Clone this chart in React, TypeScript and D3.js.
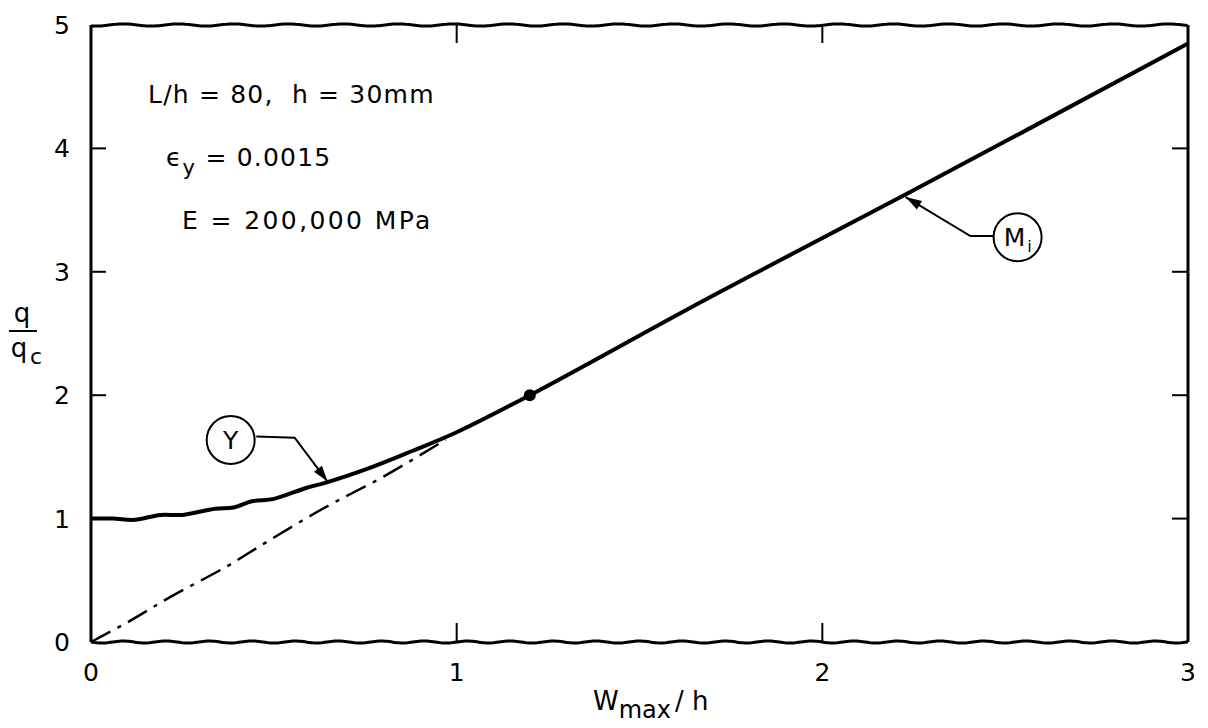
import React from "react";
import * as d3 from "d3";

// ---- data ----
const miX = [0, 0.06, 0.12, 0.19, 0.25, 0.34, 0.39, 0.44, 0.5, 0.59, 0.64, 0.77, 0.88, 1.0, 1.2, 1.69, 2.23, 3.0];
const miY = [1.0, 1.0, 0.99, 1.03, 1.03, 1.08, 1.09, 1.14, 1.16, 1.25, 1.29, 1.42, 1.55, 1.7, 2.0, 2.79, 3.63, 4.85];
const linX = [0, 0.1, 0.22, 0.37, 0.48, 0.64, 0.8, 0.97];
const linY = [0, 0.16, 0.37, 0.61, 0.81, 1.09, 1.34, 1.64];
const markerPoint = { x: 1.2, y: 2.0 };
const xTicks = [0, 1, 2, 3];
const xTickLabels = ["0", "1", "2", "3"];
const yTicks = [0, 1, 2, 3, 4, 5];
const yTickLabels = ["0", "1", "2", "3", "4", "5"];
const innerXTicks = [1, 2];
const innerYTicks = [1, 2, 3, 4];
// callouts: circle centre, leader elbow points, arrow tip (data units)
const calloutY = { label: "Y", cx: 0.382, cy: 1.637, pts: [[0.452, 1.665], [0.557, 1.655], [0.647, 1.3]] };
const calloutM = { label: "M", sub: "i", cx: 2.534, cy: 3.28, pts: [[2.468, 3.29], [2.405, 3.29], [2.228, 3.606]] };

const W = 1208;
const H = 728;
const FONT = "'DejaVu Sans', 'Liberation Sans', sans-serif";

function wavy(x0: number, x1: number, y: number, amp: number, period: number, phase = 0) {
  const pts: [number, number][] = [];
  for (let x = x0; x <= x1; x += 2) {
    pts.push([x, y + amp * Math.sin(((x - x0) / period) * 2 * Math.PI + phase)]);
  }
  pts.push([x1, y]);
  return d3.line()(pts) || "";
}

function arrowHead(tip: [number, number], from: [number, number], len = 16, half = 5) {
  const dx = tip[0] - from[0];
  const dy = tip[1] - from[1];
  const d = Math.hypot(dx, dy);
  const ux = dx / d, uy = dy / d;
  const bx = tip[0] - ux * len, by = tip[1] - uy * len;
  return `M${tip[0]},${tip[1]}L${bx - uy * half},${by + ux * half}L${bx + uy * half},${by - ux * half}Z`;
}

export default function App() {
  const x = d3.scaleLinear().domain([0, 3]).range([91, 1188]);
  const y = d3.scaleLinear().domain([0, 5]).range([642, 25]);

  const miData = miX.map((v, i) => [v, miY[i]] as [number, number]);
  const linData = linX.map((v, i) => [v, linY[i]] as [number, number]);
  const line = d3
    .line<[number, number]>()
    .x((d) => x(d[0]))
    .y((d) => y(d[1]))
    .curve(d3.curveCatmullRom.alpha(0.5));

  const x0 = x(0), x1 = x(3), yb = y(0), yt = y(5);

  const renderCallout = (c: any) => {
    const p = c.pts.map((q: number[]) => [x(q[0]), y(q[1])] as [number, number]);
    const tip = p[p.length - 1];
    const prev = p[p.length - 2];
    return (
      <g>
        <circle cx={x(c.cx)} cy={y(c.cy)} r={24} fill="white" stroke="black" strokeWidth={2} />
        <path d={d3.line()(p) || ""} fill="none" stroke="black" strokeWidth={2} />
        <path d={arrowHead(tip, prev)} fill="black" />
        <text x={x(c.cx) - (c.sub ? 3 : 0)} y={y(c.cy) + 9} textAnchor="middle" fontSize={25} fontFamily={FONT}>
          {c.label}
        </text>
        {c.sub && (
          <text x={x(c.cx) + 12} y={y(c.cy) + 15} textAnchor="middle" fontSize={16} fontFamily={FONT}>
            {c.sub}
          </text>
        )}
      </g>
    );
  };

  return (
    <svg width={W} height={H} style={{ position: "fixed", left: 0, top: 0, background: "white" }}>
      <rect width={W} height={H} fill="white" />
      {/* frame */}
      <g fill="none" stroke="black" strokeWidth={3}>
        <path d={wavy(x0, x1, yb, 1.0, 43)} />
        <path d={wavy(x0, x1, yt, 1.1, 55, 1)} />
        <line x1={x0} x2={x0} y1={yt} y2={yb} />
        <line x1={x1} x2={x1} y1={yt} y2={yb} />
      </g>
      {/* inner ticks */}
      <g stroke="black" strokeWidth={2}>
        {innerXTicks.map((t) => (
          <g key={"xt" + t}>
            <line x1={x(t)} x2={x(t)} y1={yb} y2={yb - 19} />
            <line x1={x(t)} x2={x(t)} y1={yt} y2={yt + 18} />
          </g>
        ))}
        {innerYTicks.map((t) => (
          <g key={"yt" + t}>
            <line x1={x0} x2={x0 + 15} y1={y(t)} y2={y(t)} />
            <line x1={x1} x2={x1 - 16} y1={y(t)} y2={y(t)} />
          </g>
        ))}
      </g>
      {/* tick labels */}
      <g fontFamily={FONT} fontSize={25} fill="black">
        {xTicks.map((t, i) => (
          <text key={"xl" + t} x={x(t)} y={681} textAnchor="middle">
            {xTickLabels[i]}
          </text>
        ))}
        {yTicks.map((t, i) => (
          <text key={"yl" + t} x={62} y={y(t) + 9} textAnchor="middle">
            {yTickLabels[i]}
          </text>
        ))}
      </g>
      {/* axis titles */}
      <g fontFamily={FONT} fill="black">
        <text x={22} y={322} fontSize={26} textAnchor="middle">q</text>
        <line x1={9} x2={37} y1={331} y2={331} stroke="black" strokeWidth={2} />
        <text x={19} y={357} fontSize={26} textAnchor="middle">q</text>
        <text x={36} y={364} fontSize={22} textAnchor="middle">c</text>
        <text x={593} y={710} fontSize={26}>
          W
          <tspan fontSize={24} dy={8}>max</tspan>
          <tspan dy={-8} dx={4}>/ h</tspan>
        </text>
      </g>
      {/* parameter notes */}
      <g fontFamily={FONT} fontSize={25} fill="black" letterSpacing={1.2}>
        <text x={148} y={103}>L/h = 80,&#160;&#160;h = 30mm</text>
        <text x={166} y={166}>
          ϵ<tspan fontSize={21} dy={9}>y</tspan>
          <tspan dy={-9}> = 0.0015</tspan>
        </text>
        <text x={182} y={229} letterSpacing={2.4}>E = 200,000 MPa</text>
      </g>
      {/* curves */}
      <path d={line(linData) || ""} fill="none" stroke="black" strokeWidth={2.5} strokeDasharray="22,8,4,8" />
      <path d={line(miData) || ""} fill="none" stroke="black" strokeWidth={4} strokeLinejoin="round" />
      <circle cx={x(markerPoint.x)} cy={y(markerPoint.y)} r={6} fill="black" />
      {renderCallout(calloutY)}
      {renderCallout(calloutM)}
    </svg>
  );
}
